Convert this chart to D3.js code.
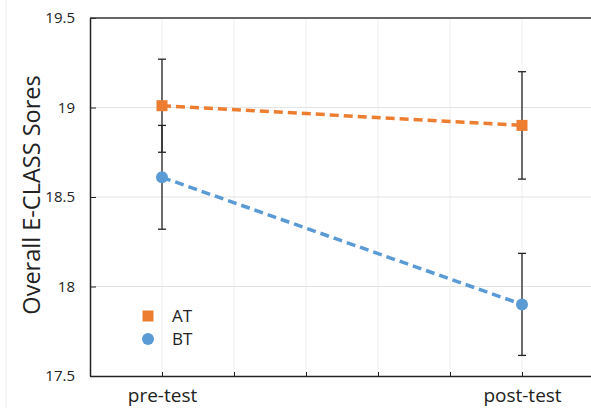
<!DOCTYPE html>
<html lang="en">
<head>
  <meta charset="utf-8">
  <title>E-CLASS</title>
  <script src="https://d3js.org/d3.v7.min.js"></script>
  <style>
    body { margin: 0; background: #fff; }
    text { font-family: "Open Sans", "Liberation Sans", sans-serif; fill: #222; }
  </style>
</head>
<body>
  <script>
    var phases = ['pre-test', 'post-test'];
    var phasePos = [1, 6]; // slot on the 0..7 axis
    var groups = ['AT', 'BT'];
    var atMeans = [19.01, 18.90];
    var atErr = [0.26, 0.30];
    var btMeans = [18.61, 17.90];
    var btErr = [0.29, 0.285];
    var yTicks = [17.5, 18, 18.5, 19, 19.5];
    var colors = ['#ED7D31', '#5B9BD5'];

    var W = 591, H = 408;
    var margin = { top: 18, right: -3, bottom: 32, left: 90 };

    var svg = d3.select('body').append('svg')
      .attr('width', W)
      .attr('height', H);

    var x = d3.scaleLinear().domain([0, 7]).range([margin.left, W - margin.right]);
    var y = d3.scaleLinear().domain([17.5, 19.5]).range([H - margin.bottom, margin.top]);

    // faint frame line at far left
    svg.append('line').attr('x1', 6).attr('x2', 6).attr('y1', 0).attr('y2', H)
      .attr('stroke', '#f0f0f0');

    // grid
    svg.selectAll('.vgrid').data(d3.range(1, 7))
      .enter().append('line')
      .attr('x1', function(d){return x(d);}).attr('x2', function(d){return x(d);})
      .attr('y1', y(19.5)).attr('y2', y(17.5))
      .attr('stroke', '#efefef').attr('stroke-width', 1);
    svg.selectAll('.hgrid').data([18, 18.5, 19])
      .enter().append('line')
      .attr('x1', x(0)).attr('x2', W)
      .attr('y1', function(d){return y(d);}).attr('y2', function(d){return y(d);})
      .attr('stroke', '#e3e3e3').attr('stroke-width', 1);

    // axes
    var yAxis = svg.append('g')
      .attr('transform', 'translate(' + x(0) + ',0)')
      .call(d3.axisLeft(y).tickValues(yTicks).tickSizeInner(-6).tickSizeOuter(0).tickPadding(15)
        .tickFormat(function(d){return d3.format('')(d);}));
    yAxis.selectAll('text').style('font-size', '15px');

    var xAxis = svg.append('g')
      .attr('transform', 'translate(0,' + y(17.5) + ')')
      .call(d3.axisBottom(x).tickValues(d3.range(1, 7)).tickSizeInner(-4).tickSizeOuter(0)
        .tickFormat(function(d){ var i = phasePos.indexOf(d); return i < 0 ? '' : phases[i]; })
        .tickPadding(13));
    xAxis.selectAll('text').style('font-size', '19px');

    svg.selectAll('.domain').attr('stroke', '#222').attr('stroke-width', 1.5);
    svg.selectAll('.tick line').attr('stroke', '#222');

    // top border
    svg.append('line').attr('x1', x(0)).attr('x2', W).attr('y1', y(19.5)).attr('y2', y(19.5))
      .attr('stroke', '#333').attr('stroke-width', 1.5);

    svg.append('text')
      .attr('transform', 'translate(40,' + (y(18.5) - 2) + ') rotate(-90)')
      .attr('text-anchor', 'middle')
      .style('font-size', '23.5px')
      .text('Overall E-CLASS Sores');

    var series = [
      { name: groups[0], means: atMeans, err: atErr, color: colors[0], shape: 'square' },
      { name: groups[1], means: btMeans, err: btErr, color: colors[1], shape: 'circle' }
    ];

    var line = d3.line()
      .x(function(d, i){return x(phasePos[i]);})
      .y(function(d){return y(d);});

    // dashed lines
    series.forEach(function(s) {
      svg.append('path').datum(s.means)
        .attr('d', line)
        .attr('fill', 'none')
        .attr('stroke', s.color)
        .attr('stroke-width', 3.5)
        .attr('stroke-dasharray', '9,5');
    });

    // error bars
    series.forEach(function(s) {
      s.means.forEach(function(m, i) {
        var cx = x(phasePos[i]);
        var g = svg.append('g').attr('stroke', '#222').attr('stroke-width', 1.3);
        g.append('line').attr('x1', cx).attr('x2', cx).attr('y1', y(m - s.err[i])).attr('y2', y(m + s.err[i]));
        [m - s.err[i], m + s.err[i]].forEach(function(v) {
          g.append('line').attr('x1', cx - 4).attr('x2', cx + 4).attr('y1', y(v)).attr('y2', y(v));
        });
      });
    });

    // markers
    series.forEach(function(s) {
      s.means.forEach(function(m, i) {
        var cx = x(phasePos[i]), cy = y(m);
        if (s.shape === 'square') {
          svg.append('rect').attr('x', cx - 5.5).attr('y', cy - 5.5).attr('width', 11).attr('height', 11)
            .attr('fill', s.color);
        } else {
          svg.append('circle').attr('cx', cx).attr('cy', cy).attr('r', 6).attr('fill', s.color);
        }
      });
    });

    // legend
    var leg = svg.append('g').attr('transform', 'translate(148,316)');
    series.forEach(function(s, i) {
      var gy = i * 23;
      if (s.shape === 'square') {
        leg.append('rect').attr('x', -5.5).attr('y', gy - 5.5).attr('width', 11).attr('height', 11).attr('fill', s.color);
      } else {
        leg.append('circle').attr('cx', 0).attr('cy', gy).attr('r', 6).attr('fill', s.color);
      }
      leg.append('text').attr('x', 24).attr('y', gy).attr('dy', '0.36em')
        .style('font-size', '17px').text(s.name);
    });
  </script>
</body>
</html>
